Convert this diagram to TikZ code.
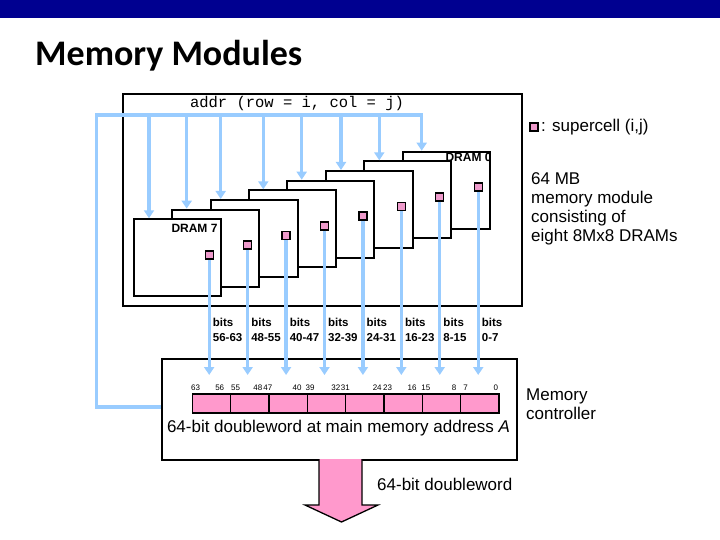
\documentclass[tikz,border=0pt]{standalone}
\usepackage{fontspec}
\setmainfont{Liberation Sans}
\setmonofont{Liberation Mono}
\newfontfamily\titlefont{Carlito}
\usetikzlibrary{arrows.meta}
\definecolor{navy}{HTML}{000090}
\definecolor{busblue}{HTML}{99CCFF}
\definecolor{pinkcell}{HTML}{FF99CC}
\definecolor{superpink}{HTML}{EE9ACB}
\newcommand{\setfs}[2]{\fontsize{#1}{#2}\selectfont}
\begin{document}
\begin{tikzpicture}[x=1pt,y=-1pt,
  bus/.style={draw=busblue,line width=3.2pt},
  busarrow/.style={bus,-{Triangle[width=10pt,length=8pt]}},
  drambox/.style={draw=black,line width=2pt,fill=white,minimum width=87pt,minimum height=77pt,anchor=north west,inner sep=0pt},
  supercell/.style={draw=black,line width=1.4pt,fill=superpink,minimum size=8pt,inner sep=0pt},
  bitcell/.style={draw=black,line width=1.4pt,fill=pinkcell,minimum width=38.33pt,minimum height=19pt,inner sep=0pt,anchor=north west},
  bitslabel/.style={font=\bfseries\setfs{11.5}{15}, align=left, anchor=west, inner sep=0pt},
  bitnum/.style={font=\setfs{8}{10}, inner sep=0pt},
  dramlabel/.style={font=\bfseries\setfs{12}{14}, anchor=east, inner sep=0pt},
  bigtext/.style={font=\setfs{17}{18.8}, inner sep=0pt, align=left},
  frame/.style={draw=black, line width=2.2pt, anchor=north west, inner sep=0pt}
]
\useasboundingbox (0,0) rectangle (720,540);
\fill[white] (0,0) rectangle (720,540);
\fill[navy] (0,0) rectangle (720,18.3);
\node[anchor=base west, font=\titlefont\bfseries\setfs{36}{40}, inner sep=0pt] (title) at (35,66) {Memory Modules};

% memory module frame
\node[frame, minimum width=399pt, minimum height=212pt] (module) at (122,93) {};
\node[font=\ttfamily\setfs{15.5}{18}, inner sep=0pt] (addr) at (297,103) {addr (row = i, col = j)};

% memory controller frame
\node[frame, line width=2pt, minimum width=355pt, minimum height=101pt] (ctrl) at (161,358) {};

% DRAM chips, back to front
\foreach \n/\dx in {0/421.7,1/379.3,2/341,3/301.7,4/263.3,5/220.7,6/186.7,7/149} {
  \pgfmathsetmacro\L{132.7+38.43*(7-\n)}
  \pgfmathsetmacro\T{218.3-9.66*(7-\n)}
  \node[drambox] (d\n) at (\L,\T) {};
  \node[supercell] (s\n) at (\L+76.5,\T+36.5) {};
  \coordinate (b\n) at (\dx,115);
  \draw[busarrow] (b\n) -- (b\n |- d\n.north);
}
\node[dramlabel] (lab7) at ([shift={(-4,10)}]d7.north east) {DRAM 7};
\node[dramlabel] (lab0) at ([shift={(1,6.3)}]d0.north east) {DRAM 0};

% address bus
\coordinate (busL) at (96.7,115);
\coordinate (busR) at (423,115);
\coordinate (busC) at (96.7,407);
\draw[bus, line join=miter] (busR) -- (busL) -- (busC) -- (busC -| ctrl.west);

% bit array
\foreach \i in {0,...,7} \node[bitcell] (c\i) at (191.7+38.33*\i, 393.3) {};

% data lines from supercells
\coordinate (tipy) at (0,375);
\foreach \n in {0,...,7} \draw[busarrow] (s\n.south) -- (s\n.south |- tipy);

\foreach \n/\t in {7/56-63,6/48-55,5/40-47,4/32-39,3/24-31,2/16-23,1/8-15,0/0-7}
  \path (s\n.south |- tipy) ++(3.5,-45.5) node[bitslabel] (bl\n) {bits\\\t};

\foreach \v/\xx in {63/195.5,56/219.7,55/235.5,48/257.8,47/267.8,40/297,39/310,32/335.8,31/345.3,24/377.2,23/387.5,16/412,15/425.8,8/454.2,7/465.5,0/495.8}
  \node[bitnum] (n\v) at (\xx,387.7) {\v};

\node[bigtext, anchor=center] (caption) at (338.5,428) {64-bit doubleword at main memory address \textit{A}};

% output arrow
\draw[line width=1.3pt, fill=pinkcell, line join=miter] (319,459) -- (319,505) -- (305,505) -- (341.5,522) -- (378,505) -- (362,505) -- (362,459);
\node[bigtext, anchor=west] (out) at (377,484) {64-bit doubleword};

% right-hand texts
\node[supercell, line width=1.2pt] (leg) at (534,127) {};
\node[bigtext, anchor=west] (legtext) at (541,127) {: supercell (i,j)};
\node[bigtext, anchor=west] (desc) at (531,209) {64 MB\\memory module\\consisting of\\eight 8Mx8 DRAMs};
\node[bigtext, anchor=west] (mc) at (526,404) {Memory\\controller};
\end{tikzpicture}
\end{document}
